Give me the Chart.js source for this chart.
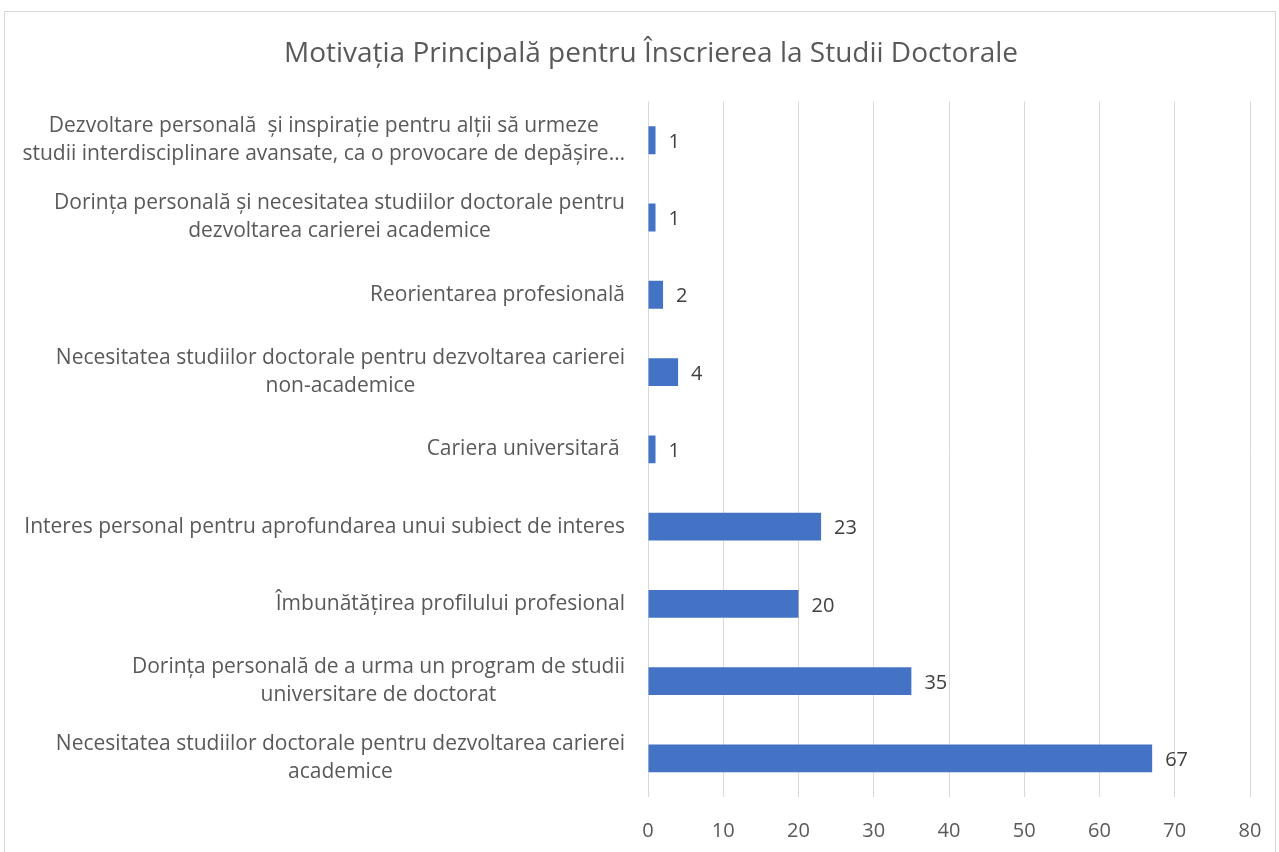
<!DOCTYPE html>
<html>
<head>
<meta charset="utf-8">
<script src="https://cdn.jsdelivr.net/npm/chart.js@4"></script>
<style>
  body { margin: 0; background: #fff; }
  #wrap { position: relative; width: 1279px; height: 852px; }
  #frame { position: absolute; left: 4px; top: 11px; width: 1270px; height: 860px; border: 1px solid #d9d9d9; }
</style>
</head>
<body>
<div id="wrap">
  <div id="frame"></div>
  <canvas id="motivChart"></canvas>
</div>
<script>
// categories, top to bottom, split into the lines shown in the picture
var categories = [
    ["Dezvoltare personală  și inspirație pentru alții să urmeze", "studii interdisciplinare avansate, ca o provocare de depășire…"],
    ["Dorința personală și necesitatea studiilor doctorale pentru", "dezvoltarea carierei academice"],
    ["Reorientarea profesională"],
    ["Necesitatea studiilor doctorale pentru dezvoltarea carierei", "non-academice"],
    ["Cariera universitară "],
    ["Interes personal pentru aprofundarea unui subiect de interes"],
    ["Îmbunătățirea profilului profesional"],
    ["Dorința personală de a urma un program de studii", "universitare de doctorat"],
    ["Necesitatea studiilor doctorale pentru dezvoltarea carierei", "academice"]
];
var counts = [1, 1, 2, 4, 1, 23, 20, 35, 67];
var xMin = 0, xMax = 80, xStep = 10;

var textColor = "#595959";
var fontFamily = '"Open Sans", sans-serif';

// category labels: block right-aligned to the axis, lines centred inside the block
var categoryLabels = {
    id: "categoryLabels",
    afterDraw: function (chart) {
        var ctx = chart.ctx;
        var y = chart.scales.y;
        ctx.save();
        ctx.font = "21px " + fontFamily;
        ctx.fillStyle = textColor;
        ctx.textAlign = "center";
        ctx.textBaseline = "middle";
        var right = y.right - 23;
        var lh = 28;
        y.ticks.forEach(function (t, i) {
            var lines = categories[i];
            var w = Math.max.apply(null, lines.map(function (l) { return ctx.measureText(l).width; }));
            var cx = right - w / 2;
            var yc = y.getPixelForTick(i);
            lines.forEach(function (l, j) {
                ctx.fillText(l, cx, yc + (j - (lines.length - 1) / 2) * lh);
            });
        });
        ctx.restore();
    }
};

// value labels at the end of each bar
var valueLabels = {
    id: "valueLabels",
    afterDatasetsDraw: function (chart) {
        var ctx = chart.ctx;
        var meta = chart.getDatasetMeta(0);
        ctx.save();
        ctx.font = "20px " + fontFamily;
        ctx.fillStyle = "#404040";
        ctx.textAlign = "left";
        ctx.textBaseline = "middle";
        meta.data.forEach(function (bar, i) {
            ctx.fillText(String(counts[i]), bar.x + 13, bar.y + 2);
        });
        ctx.restore();
    }
};

var ctx = document.getElementById("motivChart").getContext("2d");
var motivChart = new Chart(ctx, {
    type: "bar",
    data: {
        labels: categories,
        datasets: [
            {
                label: "Respondenți",
                data: counts,
                backgroundColor: "#4472C4",
                borderWidth: 0,
                barPercentage: 0.36,
                categoryPercentage: 1
            }
        ]
    },
    options: {
        indexAxis: "y",
        responsive: true,
        maintainAspectRatio: false,
        animation: false,
        layout: { padding: { left: 52, right: 29, top: 0, bottom: 0 } },
        plugins: {
            legend: { display: false },
            tooltip: { enabled: false },
            title: {
                display: true,
                text: "Motivația Principală pentru Înscrierea la Studii Doctorale",
                color: textColor,
                font: { family: fontFamily, size: 28, weight: "normal" },
                padding: { top: 37, bottom: 31 }
            }
        },
        scales: {
            x: {
                min: xMin,
                max: xMax,
                ticks: {
                    stepSize: xStep,
                    color: textColor,
                    font: { family: fontFamily, size: 20 },
                    padding: 22
                },
                grid: { color: "#d9d9d9", lineWidth: 1, drawTicks: false },
                border: { display: false },
                afterFit: function (scale) {
                    scale.height = 55;
                    scale.paddingLeft = 0;
                    scale.paddingRight = 0;
                }
            },
            y: {
                ticks: { display: false },
                grid: { display: false },
                border: { display: false },
                afterFit: function (scale) { scale.width = 596; }
            }
        }
    },
    plugins: [categoryLabels, valueLabels]
});
</script>
</body>
</html>
